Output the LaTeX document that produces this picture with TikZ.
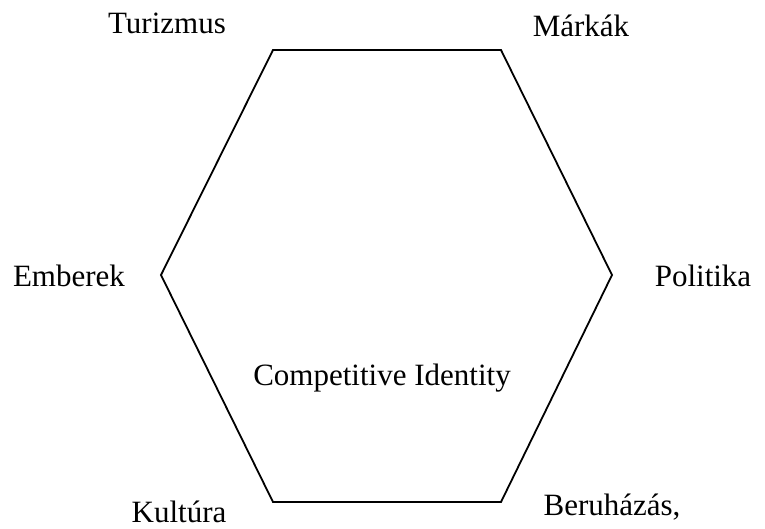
\documentclass[tikz,border=0pt]{standalone}
\usepackage{fontspec}
\setmainfont{Liberation Serif}
\begin{document}
\begin{tikzpicture}[x=1pt,y=-1pt,
  lbl/.style={anchor=base,inner sep=0pt,font=\fontsize{31}{36}\selectfont},
  hex/.style={draw=black,line width=1.8pt,line join=miter}]
\useasboundingbox (0,0) rectangle (765,529);
\coordinate (v1) at (273,50);
\coordinate (v2) at (501,50);
\coordinate (v3) at (612,275);
\coordinate (v4) at (501,502);
\coordinate (v5) at (273,502);
\coordinate (v6) at (161,275);
\draw[hex] (v1) -- (v2) -- (v3) -- (v4) -- (v5) -- (v6) -- cycle;
\node[lbl] (tur) at (167,34) {Turizmus};
\node[lbl] (mar) at (581,37) {Márkák};
\node[lbl] (emb) at (69,287) {Emberek};
\node[lbl] (pol) at (703,287) {Politika};
\node[lbl] (ci) at (382,385) {Competitive Identity};
\node[lbl] (kul) at (179,522) {Kultúra};
\node[lbl] (ber) at (612,515) {Beruházás,};
\end{tikzpicture}
\end{document}
